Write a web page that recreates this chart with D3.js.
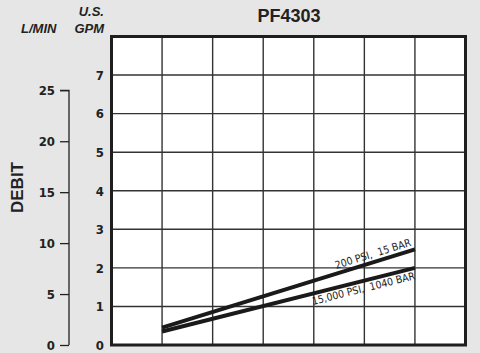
<!DOCTYPE html>
<html><head><meta charset="utf-8">
<script src="https://cdn.jsdelivr.net/npm/d3@7"></script>
<style>
html,body{margin:0;padding:0;background:#e6e6e6;}
svg{display:block;}
</style></head>
<body>
<script>
const title = "PF4303";
const gpmTicks = [0,1,2,3,4,5,6,7];
const lminTicks = [0,5,10,15,20,25];
const xColumns = [0,1,2,3,4,5,6,7];
const seriesNames = ["200 PSI,  15 BAR", "15,000 PSI,  1040 BAR"];
const seriesX = [1, 6];
const series200 = [0.45, 2.48];
const series15000 = [0.35, 2.0];
const LMIN_PER_GPM = 3.785;

const W = 480, H = 353;
const svg = d3.select("body").append("svg").attr("width", W).attr("height", H);
svg.append("rect").attr("width", W).attr("height", H).attr("fill", "#e6e6e6");

const x = d3.scaleLinear().domain([0, 7]).range([111.5, 465.5]);
const y = d3.scaleLinear().domain([0, 8]).range([345, 36.5]);
const yL = d3.scaleLinear().domain([0, 8 * LMIN_PER_GPM]).range([345, 36.5]);

const numFont = "'Liberation Sans Narrow','Arial Narrow','DejaVu Sans Condensed',sans-serif";
const font = "'Liberation Sans',Arial,sans-serif";

// plot background
svg.append("rect").attr("x", x(0)).attr("y", y(8)).attr("width", x(7) - x(0)).attr("height", y(0) - y(8)).attr("fill", "#fff");

// grid
const g = svg.append("g");
g.selectAll(".vg").data(xColumns.slice(1, -1)).join("line")
  .attr("x1", d => x(d)).attr("x2", d => x(d)).attr("y1", y(8)).attr("y2", y(0))
  .attr("stroke", "#333").attr("stroke-width", 1.4);
g.selectAll(".hg").data(gpmTicks.slice(1)).join("line")
  .attr("x1", x(0)).attr("x2", x(7)).attr("y1", d => y(d)).attr("y2", d => y(d))
  .attr("stroke", "#333").attr("stroke-width", 1.4);

// series lines
const line = d3.line().x((d, i) => x(seriesX[i])).y(d => y(d));
[series200, series15000].forEach(s => {
  svg.append("path").datum(s).attr("d", line).attr("fill", "none")
    .attr("stroke", "#1a1a1a").attr("stroke-width", 4).attr("stroke-linecap", "butt");
});

// series labels
function label(s, name, dy) {
  const x1 = x(seriesX[0]), y1 = y(s[0]), x2 = x(seriesX[1]), y2 = y(s[1]);
  const ang = Math.atan2(y2 - y1, x2 - x1) * 180 / Math.PI;
  svg.append("text").attr("transform", `translate(${x2 - 2},${y2}) rotate(${ang})`)
    .attr("dy", dy).attr("text-anchor", "end").style("white-space", "pre")
    .attr("font-family", numFont).attr("font-size", 10.5).attr("fill", "#222")
    .text(name);
}
label(series200, seriesNames[0], -4);
label(series15000, seriesNames[1], 11.5);

// frame
svg.append("rect").attr("x", x(0)).attr("y", y(8)).attr("width", x(7) - x(0)).attr("height", y(0) - y(8))
  .attr("fill", "none").attr("stroke", "#1e1e1e").attr("stroke-width", 3);

// GPM tick labels
svg.selectAll(".gpm").data(gpmTicks).join("text")
  .attr("x", 104).attr("y", d => y(d) + 4.8).attr("text-anchor", "end")
  .attr("font-family", numFont).attr("font-weight", "bold").attr("font-size", 13).attr("fill", "#222")
  .text(d => d);

// L/MIN axis
const ax = svg.append("g").attr("transform", "translate(69,0)")
  .call(d3.axisLeft(yL).tickValues(lminTicks).tickSize(9).tickPadding(5));
ax.select(".domain").attr("d", `M-9,${yL(25)}H0V${yL(0)}`).attr("stroke", "#222").attr("stroke-width", 1.3);
ax.selectAll(".tick line").attr("stroke", "#222").attr("stroke-width", 1.3);
ax.selectAll(".tick text").attr("font-family", numFont).attr("font-weight", "bold").attr("font-size", 13).attr("fill", "#222");

// titles
svg.append("text").attr("x", 289).attr("y", 21.5).attr("text-anchor", "middle")
  .attr("font-family", font).attr("font-weight", "bold").attr("font-size", 18).attr("fill", "#222").text(title);
svg.append("text").attr("x", 21).attr("y", 32.7)
  .attr("font-family", font).attr("font-weight", "bold").attr("font-style", "italic").attr("font-size", 13).attr("fill", "#222").text("L/MIN");
svg.append("text").attr("x", 104).attr("y", 16).attr("text-anchor", "end")
  .attr("font-family", font).attr("font-weight", "bold").attr("font-style", "italic").attr("font-size", 13).attr("fill", "#222").text("U.S.");
svg.append("text").attr("x", 104).attr("y", 32.7).attr("text-anchor", "end")
  .attr("font-family", font).attr("font-weight", "bold").attr("font-style", "italic").attr("font-size", 13).attr("fill", "#222").text("GPM");
svg.append("text").attr("transform", "translate(22.7,187.5) rotate(-90)").attr("text-anchor", "middle")
  .attr("font-family", font).attr("font-weight", "bold").attr("font-size", 17).attr("fill", "#222").text("DEBIT");
</script>
</body></html>
